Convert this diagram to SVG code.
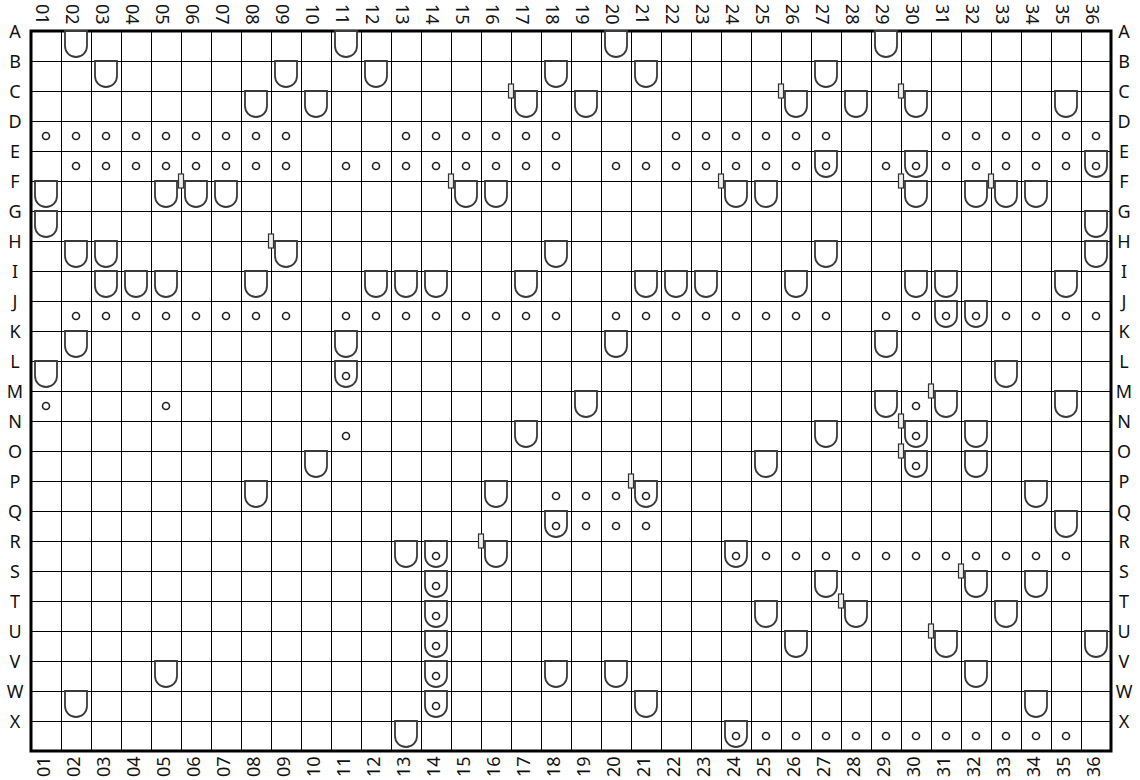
<svg xmlns="http://www.w3.org/2000/svg" xmlns:xlink="http://www.w3.org/1999/xlink" width="1140" height="780" viewBox="0 0 1140 780">
<style>
text{font-family:"Noto Sans","Open Sans","DejaVu Sans",sans-serif;font-size:18px;fill:#111}
.m{text-anchor:middle}
</style>
<defs>
<path id="u" d="M-11 0V15A11 11 0 0 0 11 15V0Z" fill="#fff" stroke="#3a3a3a" stroke-width="1.8"/>
<circle id="o" r="3.5" fill="none" stroke="#222" stroke-width="1.6"/>
<rect id="d" x="-2.5" y="-7" width="5" height="14" fill="#eee" stroke="#333" stroke-width="1.2"/>
</defs>
<rect width="1140" height="780" fill="#fff"/>
<g id="grid" fill="none" stroke="#000">
<path stroke-width="1" d="M61.5 31V751M91.5 31V751M121.5 31V751M151.5 31V751M181.5 31V751M211.5 31V751M241.5 31V751M271.5 31V751M301.5 31V751M331.5 31V751M361.5 31V751M391.5 31V751M421.5 31V751M451.5 31V751M481.5 31V751M511.5 31V751M541.5 31V751M571.5 31V751M601.5 31V751M631.5 31V751M661.5 31V751M691.5 31V751M721.5 31V751M751.5 31V751M781.5 31V751M811.5 31V751M841.5 31V751M871.5 31V751M901.5 31V751M931.5 31V751M961.5 31V751M991.5 31V751M1021.5 31V751M1051.5 31V751M1081.5 31V751M31 61.5H1111M31 91.5H1111M31 121.5H1111M31 151.5H1111M31 181.5H1111M31 211.5H1111M31 241.5H1111M31 271.5H1111M31 301.5H1111M31 331.5H1111M31 361.5H1111M31 391.5H1111M31 421.5H1111M31 451.5H1111M31 481.5H1111M31 511.5H1111M31 541.5H1111M31 571.5H1111M31 601.5H1111M31 631.5H1111M31 661.5H1111M31 691.5H1111M31 721.5H1111"/>
<rect x="31" y="31" width="1080" height="720" stroke-width="3"/>
</g>
<g id="row-labels" class="m">
<text x="15" y="38">A</text><text x="15" y="68">B</text><text x="15" y="98">C</text><text x="15" y="128">D</text><text x="15" y="158">E</text><text x="15" y="188">F</text><text x="15" y="218">G</text><text x="15" y="248">H</text><text x="15" y="278">I</text><text x="15" y="308">J</text><text x="15" y="338">K</text><text x="15" y="368">L</text><text x="15" y="398">M</text><text x="15" y="428">N</text><text x="15" y="458">O</text><text x="15" y="488">P</text><text x="15" y="518">Q</text><text x="15" y="548">R</text><text x="15" y="578">S</text><text x="15" y="608">T</text><text x="15" y="638">U</text><text x="15" y="668">V</text><text x="15" y="698">W</text><text x="15" y="728">X</text>
<text x="1124" y="38">A</text><text x="1124" y="68">B</text><text x="1124" y="98">C</text><text x="1124" y="128">D</text><text x="1124" y="158">E</text><text x="1124" y="188">F</text><text x="1124" y="218">G</text><text x="1124" y="248">H</text><text x="1124" y="278">I</text><text x="1124" y="308">J</text><text x="1124" y="338">K</text><text x="1124" y="368">L</text><text x="1124" y="398">M</text><text x="1124" y="428">N</text><text x="1124" y="458">O</text><text x="1124" y="488">P</text><text x="1124" y="518">Q</text><text x="1124" y="548">R</text><text x="1124" y="578">S</text><text x="1124" y="608">T</text><text x="1124" y="638">U</text><text x="1124" y="668">V</text><text x="1124" y="698">W</text><text x="1124" y="728">X</text>
</g>
<g id="col-labels-top">
<text transform="translate(36,4) rotate(90)">01</text><text transform="translate(66,4) rotate(90)">02</text><text transform="translate(96,4) rotate(90)">03</text><text transform="translate(126,4) rotate(90)">04</text><text transform="translate(156,4) rotate(90)">05</text><text transform="translate(186,4) rotate(90)">06</text><text transform="translate(216,4) rotate(90)">07</text><text transform="translate(246,4) rotate(90)">08</text><text transform="translate(276,4) rotate(90)">09</text><text transform="translate(306,4) rotate(90)">10</text><text transform="translate(336,4) rotate(90)">11</text><text transform="translate(366,4) rotate(90)">12</text><text transform="translate(396,4) rotate(90)">13</text><text transform="translate(426,4) rotate(90)">14</text><text transform="translate(456,4) rotate(90)">15</text><text transform="translate(486,4) rotate(90)">16</text><text transform="translate(516,4) rotate(90)">17</text><text transform="translate(546,4) rotate(90)">18</text><text transform="translate(576,4) rotate(90)">19</text><text transform="translate(606,4) rotate(90)">20</text><text transform="translate(636,4) rotate(90)">21</text><text transform="translate(666,4) rotate(90)">22</text><text transform="translate(696,4) rotate(90)">23</text><text transform="translate(726,4) rotate(90)">24</text><text transform="translate(756,4) rotate(90)">25</text><text transform="translate(786,4) rotate(90)">26</text><text transform="translate(816,4) rotate(90)">27</text><text transform="translate(846,4) rotate(90)">28</text><text transform="translate(876,4) rotate(90)">29</text><text transform="translate(906,4) rotate(90)">30</text><text transform="translate(936,4) rotate(90)">31</text><text transform="translate(966,4) rotate(90)">32</text><text transform="translate(996,4) rotate(90)">33</text><text transform="translate(1026,4) rotate(90)">34</text><text transform="translate(1056,4) rotate(90)">35</text><text transform="translate(1086,4) rotate(90)">36</text>
</g>
<g id="col-labels-bottom">
<text transform="translate(50,777) rotate(-90)">01</text><text transform="translate(80,777) rotate(-90)">02</text><text transform="translate(110,777) rotate(-90)">03</text><text transform="translate(140,777) rotate(-90)">04</text><text transform="translate(170,777) rotate(-90)">05</text><text transform="translate(200,777) rotate(-90)">06</text><text transform="translate(230,777) rotate(-90)">07</text><text transform="translate(260,777) rotate(-90)">08</text><text transform="translate(290,777) rotate(-90)">09</text><text transform="translate(320,777) rotate(-90)">10</text><text transform="translate(350,777) rotate(-90)">11</text><text transform="translate(380,777) rotate(-90)">12</text><text transform="translate(410,777) rotate(-90)">13</text><text transform="translate(440,777) rotate(-90)">14</text><text transform="translate(470,777) rotate(-90)">15</text><text transform="translate(500,777) rotate(-90)">16</text><text transform="translate(530,777) rotate(-90)">17</text><text transform="translate(560,777) rotate(-90)">18</text><text transform="translate(590,777) rotate(-90)">19</text><text transform="translate(620,777) rotate(-90)">20</text><text transform="translate(650,777) rotate(-90)">21</text><text transform="translate(680,777) rotate(-90)">22</text><text transform="translate(710,777) rotate(-90)">23</text><text transform="translate(740,777) rotate(-90)">24</text><text transform="translate(770,777) rotate(-90)">25</text><text transform="translate(800,777) rotate(-90)">26</text><text transform="translate(830,777) rotate(-90)">27</text><text transform="translate(860,777) rotate(-90)">28</text><text transform="translate(890,777) rotate(-90)">29</text><text transform="translate(920,777) rotate(-90)">30</text><text transform="translate(950,777) rotate(-90)">31</text><text transform="translate(980,777) rotate(-90)">32</text><text transform="translate(1010,777) rotate(-90)">33</text><text transform="translate(1040,777) rotate(-90)">34</text><text transform="translate(1070,777) rotate(-90)">35</text><text transform="translate(1100,777) rotate(-90)">36</text>
</g>
<g id="connectors"/>
<g id="fixtures">
<g id="A02"><use href="#u" x="76" y="31"/></g><g id="A11"><use href="#u" x="346" y="31"/></g><g id="A20"><use href="#u" x="616" y="31"/></g><g id="A29"><use href="#u" x="886" y="31"/></g>
<g id="B03"><use href="#u" x="106" y="61"/></g><g id="B09"><use href="#u" x="286" y="61"/></g><g id="B12"><use href="#u" x="376" y="61"/></g><g id="B18"><use href="#u" x="556" y="61"/></g><g id="B21"><use href="#u" x="646" y="61"/></g><g id="B27"><use href="#u" x="826" y="61"/></g>
<g id="C08"><use href="#u" x="256" y="91"/></g><g id="C10"><use href="#u" x="316" y="91"/></g><g id="C17"><use href="#u" x="526" y="91"/><use href="#d" x="511" y="91"/></g><g id="C19"><use href="#u" x="586" y="91"/></g><g id="C26"><use href="#u" x="796" y="91"/><use href="#d" x="781" y="91"/></g><g id="C28"><use href="#u" x="856" y="91"/></g><g id="C30"><use href="#u" x="916" y="91"/><use href="#d" x="901" y="91"/></g><g id="C35"><use href="#u" x="1066" y="91"/></g>
<g id="D01"><use href="#o" x="46" y="136"/></g><g id="D02"><use href="#o" x="76" y="136"/></g><g id="D03"><use href="#o" x="106" y="136"/></g><g id="D04"><use href="#o" x="136" y="136"/></g><g id="D05"><use href="#o" x="166" y="136"/></g><g id="D06"><use href="#o" x="196" y="136"/></g><g id="D07"><use href="#o" x="226" y="136"/></g><g id="D08"><use href="#o" x="256" y="136"/></g><g id="D09"><use href="#o" x="286" y="136"/></g><g id="D13"><use href="#o" x="406" y="136"/></g><g id="D14"><use href="#o" x="436" y="136"/></g><g id="D15"><use href="#o" x="466" y="136"/></g><g id="D16"><use href="#o" x="496" y="136"/></g><g id="D17"><use href="#o" x="526" y="136"/></g><g id="D18"><use href="#o" x="556" y="136"/></g><g id="D22"><use href="#o" x="676" y="136"/></g><g id="D23"><use href="#o" x="706" y="136"/></g><g id="D24"><use href="#o" x="736" y="136"/></g><g id="D25"><use href="#o" x="766" y="136"/></g><g id="D26"><use href="#o" x="796" y="136"/></g><g id="D27"><use href="#o" x="826" y="136"/></g><g id="D31"><use href="#o" x="946" y="136"/></g><g id="D32"><use href="#o" x="976" y="136"/></g><g id="D33"><use href="#o" x="1006" y="136"/></g><g id="D34"><use href="#o" x="1036" y="136"/></g><g id="D35"><use href="#o" x="1066" y="136"/></g><g id="D36"><use href="#o" x="1096" y="136"/></g>
<g id="E02"><use href="#o" x="76" y="166"/></g><g id="E03"><use href="#o" x="106" y="166"/></g><g id="E04"><use href="#o" x="136" y="166"/></g><g id="E05"><use href="#o" x="166" y="166"/></g><g id="E06"><use href="#o" x="196" y="166"/></g><g id="E07"><use href="#o" x="226" y="166"/></g><g id="E08"><use href="#o" x="256" y="166"/></g><g id="E09"><use href="#o" x="286" y="166"/></g><g id="E11"><use href="#o" x="346" y="166"/></g><g id="E12"><use href="#o" x="376" y="166"/></g><g id="E13"><use href="#o" x="406" y="166"/></g><g id="E14"><use href="#o" x="436" y="166"/></g><g id="E15"><use href="#o" x="466" y="166"/></g><g id="E16"><use href="#o" x="496" y="166"/></g><g id="E17"><use href="#o" x="526" y="166"/></g><g id="E18"><use href="#o" x="556" y="166"/></g><g id="E20"><use href="#o" x="616" y="166"/></g><g id="E21"><use href="#o" x="646" y="166"/></g><g id="E22"><use href="#o" x="676" y="166"/></g><g id="E23"><use href="#o" x="706" y="166"/></g><g id="E24"><use href="#o" x="736" y="166"/></g><g id="E25"><use href="#o" x="766" y="166"/></g><g id="E26"><use href="#o" x="796" y="166"/></g><g id="E27"><use href="#u" x="826" y="151"/><use href="#o" x="826" y="166"/></g><g id="E29"><use href="#o" x="886" y="166"/></g><g id="E30"><use href="#u" x="916" y="151"/><use href="#o" x="916" y="166"/></g><g id="E31"><use href="#o" x="946" y="166"/></g><g id="E32"><use href="#o" x="976" y="166"/></g><g id="E33"><use href="#o" x="1006" y="166"/></g><g id="E34"><use href="#o" x="1036" y="166"/></g><g id="E35"><use href="#o" x="1066" y="166"/></g><g id="E36"><use href="#u" x="1096" y="151"/><use href="#o" x="1096" y="166"/></g>
<g id="F01"><use href="#u" x="46" y="181"/></g><g id="F05"><use href="#u" x="166" y="181"/></g><g id="F06"><use href="#u" x="196" y="181"/><use href="#d" x="181" y="181"/></g><g id="F07"><use href="#u" x="226" y="181"/></g><g id="F15"><use href="#u" x="466" y="181"/><use href="#d" x="451" y="181"/></g><g id="F16"><use href="#u" x="496" y="181"/></g><g id="F24"><use href="#u" x="736" y="181"/><use href="#d" x="721" y="181"/></g><g id="F25"><use href="#u" x="766" y="181"/></g><g id="F30"><use href="#u" x="916" y="181"/><use href="#d" x="901" y="181"/></g><g id="F32"><use href="#u" x="976" y="181"/></g><g id="F33"><use href="#u" x="1006" y="181"/><use href="#d" x="991" y="181"/></g><g id="F34"><use href="#u" x="1036" y="181"/></g>
<g id="G01"><use href="#u" x="46" y="211"/></g><g id="G36"><use href="#u" x="1096" y="211"/></g>
<g id="H02"><use href="#u" x="76" y="241"/></g><g id="H03"><use href="#u" x="106" y="241"/></g><g id="H09"><use href="#u" x="286" y="241"/><use href="#d" x="271" y="241"/></g><g id="H18"><use href="#u" x="556" y="241"/></g><g id="H27"><use href="#u" x="826" y="241"/></g><g id="H36"><use href="#u" x="1096" y="241"/></g>
<g id="I03"><use href="#u" x="106" y="271"/></g><g id="I04"><use href="#u" x="136" y="271"/></g><g id="I05"><use href="#u" x="166" y="271"/></g><g id="I08"><use href="#u" x="256" y="271"/></g><g id="I12"><use href="#u" x="376" y="271"/></g><g id="I13"><use href="#u" x="406" y="271"/></g><g id="I14"><use href="#u" x="436" y="271"/></g><g id="I17"><use href="#u" x="526" y="271"/></g><g id="I21"><use href="#u" x="646" y="271"/></g><g id="I22"><use href="#u" x="676" y="271"/></g><g id="I23"><use href="#u" x="706" y="271"/></g><g id="I26"><use href="#u" x="796" y="271"/></g><g id="I30"><use href="#u" x="916" y="271"/></g><g id="I31"><use href="#u" x="946" y="271"/></g><g id="I35"><use href="#u" x="1066" y="271"/></g>
<g id="J02"><use href="#o" x="76" y="316"/></g><g id="J03"><use href="#o" x="106" y="316"/></g><g id="J04"><use href="#o" x="136" y="316"/></g><g id="J05"><use href="#o" x="166" y="316"/></g><g id="J06"><use href="#o" x="196" y="316"/></g><g id="J07"><use href="#o" x="226" y="316"/></g><g id="J08"><use href="#o" x="256" y="316"/></g><g id="J09"><use href="#o" x="286" y="316"/></g><g id="J11"><use href="#o" x="346" y="316"/></g><g id="J12"><use href="#o" x="376" y="316"/></g><g id="J13"><use href="#o" x="406" y="316"/></g><g id="J14"><use href="#o" x="436" y="316"/></g><g id="J15"><use href="#o" x="466" y="316"/></g><g id="J16"><use href="#o" x="496" y="316"/></g><g id="J17"><use href="#o" x="526" y="316"/></g><g id="J18"><use href="#o" x="556" y="316"/></g><g id="J20"><use href="#o" x="616" y="316"/></g><g id="J21"><use href="#o" x="646" y="316"/></g><g id="J22"><use href="#o" x="676" y="316"/></g><g id="J23"><use href="#o" x="706" y="316"/></g><g id="J24"><use href="#o" x="736" y="316"/></g><g id="J25"><use href="#o" x="766" y="316"/></g><g id="J26"><use href="#o" x="796" y="316"/></g><g id="J27"><use href="#o" x="826" y="316"/></g><g id="J29"><use href="#o" x="886" y="316"/></g><g id="J30"><use href="#o" x="916" y="316"/></g><g id="J31"><use href="#u" x="946" y="301"/><use href="#o" x="946" y="316"/></g><g id="J32"><use href="#u" x="976" y="301"/><use href="#o" x="976" y="316"/></g><g id="J33"><use href="#o" x="1006" y="316"/></g><g id="J34"><use href="#o" x="1036" y="316"/></g><g id="J35"><use href="#o" x="1066" y="316"/></g><g id="J36"><use href="#o" x="1096" y="316"/></g>
<g id="K02"><use href="#u" x="76" y="331"/></g><g id="K11"><use href="#u" x="346" y="331"/></g><g id="K20"><use href="#u" x="616" y="331"/></g><g id="K29"><use href="#u" x="886" y="331"/></g>
<g id="L01"><use href="#u" x="46" y="361"/></g><g id="L11"><use href="#u" x="346" y="361"/><use href="#o" x="346" y="376"/></g><g id="L33"><use href="#u" x="1006" y="361"/></g>
<g id="M01"><use href="#o" x="46" y="406"/></g><g id="M05"><use href="#o" x="166" y="406"/></g><g id="M19"><use href="#u" x="586" y="391"/></g><g id="M29"><use href="#u" x="886" y="391"/></g><g id="M30"><use href="#o" x="916" y="406"/></g><g id="M31"><use href="#u" x="946" y="391"/><use href="#d" x="931" y="391"/></g><g id="M35"><use href="#u" x="1066" y="391"/></g>
<g id="N11"><use href="#o" x="346" y="436"/></g><g id="N17"><use href="#u" x="526" y="421"/></g><g id="N27"><use href="#u" x="826" y="421"/></g><g id="N30"><use href="#u" x="916" y="421"/><use href="#o" x="916" y="436"/><use href="#d" x="901" y="421"/></g><g id="N32"><use href="#u" x="976" y="421"/></g>
<g id="O10"><use href="#u" x="316" y="451"/></g><g id="O25"><use href="#u" x="766" y="451"/></g><g id="O30"><use href="#u" x="916" y="451"/><use href="#o" x="916" y="466"/><use href="#d" x="901" y="451"/></g><g id="O32"><use href="#u" x="976" y="451"/></g>
<g id="P08"><use href="#u" x="256" y="481"/></g><g id="P16"><use href="#u" x="496" y="481"/></g><g id="P18"><use href="#o" x="556" y="496"/></g><g id="P19"><use href="#o" x="586" y="496"/></g><g id="P20"><use href="#o" x="616" y="496"/></g><g id="P21"><use href="#u" x="646" y="481"/><use href="#o" x="646" y="496"/><use href="#d" x="631" y="481"/></g><g id="P34"><use href="#u" x="1036" y="481"/></g>
<g id="Q18"><use href="#u" x="556" y="511"/><use href="#o" x="556" y="526"/></g><g id="Q19"><use href="#o" x="586" y="526"/></g><g id="Q20"><use href="#o" x="616" y="526"/></g><g id="Q21"><use href="#o" x="646" y="526"/></g><g id="Q35"><use href="#u" x="1066" y="511"/></g>
<g id="R13"><use href="#u" x="406" y="541"/></g><g id="R14"><use href="#u" x="436" y="541"/><use href="#o" x="436" y="556"/></g><g id="R16"><use href="#u" x="496" y="541"/><use href="#d" x="481" y="541"/></g><g id="R24"><use href="#u" x="736" y="541"/><use href="#o" x="736" y="556"/></g><g id="R25"><use href="#o" x="766" y="556"/></g><g id="R26"><use href="#o" x="796" y="556"/></g><g id="R27"><use href="#o" x="826" y="556"/></g><g id="R28"><use href="#o" x="856" y="556"/></g><g id="R29"><use href="#o" x="886" y="556"/></g><g id="R30"><use href="#o" x="916" y="556"/></g><g id="R31"><use href="#o" x="946" y="556"/></g><g id="R32"><use href="#o" x="976" y="556"/></g><g id="R33"><use href="#o" x="1006" y="556"/></g><g id="R34"><use href="#o" x="1036" y="556"/></g><g id="R35"><use href="#o" x="1066" y="556"/></g>
<g id="S14"><use href="#u" x="436" y="571"/><use href="#o" x="436" y="586"/></g><g id="S27"><use href="#u" x="826" y="571"/></g><g id="S32"><use href="#u" x="976" y="571"/><use href="#d" x="961" y="571"/></g><g id="S34"><use href="#u" x="1036" y="571"/></g>
<g id="T14"><use href="#u" x="436" y="601"/><use href="#o" x="436" y="616"/></g><g id="T25"><use href="#u" x="766" y="601"/></g><g id="T28"><use href="#u" x="856" y="601"/><use href="#d" x="841" y="601"/></g><g id="T33"><use href="#u" x="1006" y="601"/></g>
<g id="U14"><use href="#u" x="436" y="631"/><use href="#o" x="436" y="646"/></g><g id="U26"><use href="#u" x="796" y="631"/></g><g id="U31"><use href="#u" x="946" y="631"/><use href="#d" x="931" y="631"/></g><g id="U36"><use href="#u" x="1096" y="631"/></g>
<g id="V05"><use href="#u" x="166" y="661"/></g><g id="V14"><use href="#u" x="436" y="661"/><use href="#o" x="436" y="676"/></g><g id="V18"><use href="#u" x="556" y="661"/></g><g id="V20"><use href="#u" x="616" y="661"/></g><g id="V32"><use href="#u" x="976" y="661"/></g>
<g id="W02"><use href="#u" x="76" y="691"/></g><g id="W14"><use href="#u" x="436" y="691"/><use href="#o" x="436" y="706"/></g><g id="W21"><use href="#u" x="646" y="691"/></g><g id="W34"><use href="#u" x="1036" y="691"/></g>
<g id="X13"><use href="#u" x="406" y="721"/></g><g id="X24"><use href="#u" x="736" y="721"/><use href="#o" x="736" y="736"/></g><g id="X25"><use href="#o" x="766" y="736"/></g><g id="X26"><use href="#o" x="796" y="736"/></g><g id="X27"><use href="#o" x="826" y="736"/></g><g id="X28"><use href="#o" x="856" y="736"/></g><g id="X29"><use href="#o" x="886" y="736"/></g><g id="X30"><use href="#o" x="916" y="736"/></g><g id="X31"><use href="#o" x="946" y="736"/></g><g id="X32"><use href="#o" x="976" y="736"/></g><g id="X33"><use href="#o" x="1006" y="736"/></g><g id="X34"><use href="#o" x="1036" y="736"/></g><g id="X35"><use href="#o" x="1066" y="736"/></g>
</g>
</svg>
